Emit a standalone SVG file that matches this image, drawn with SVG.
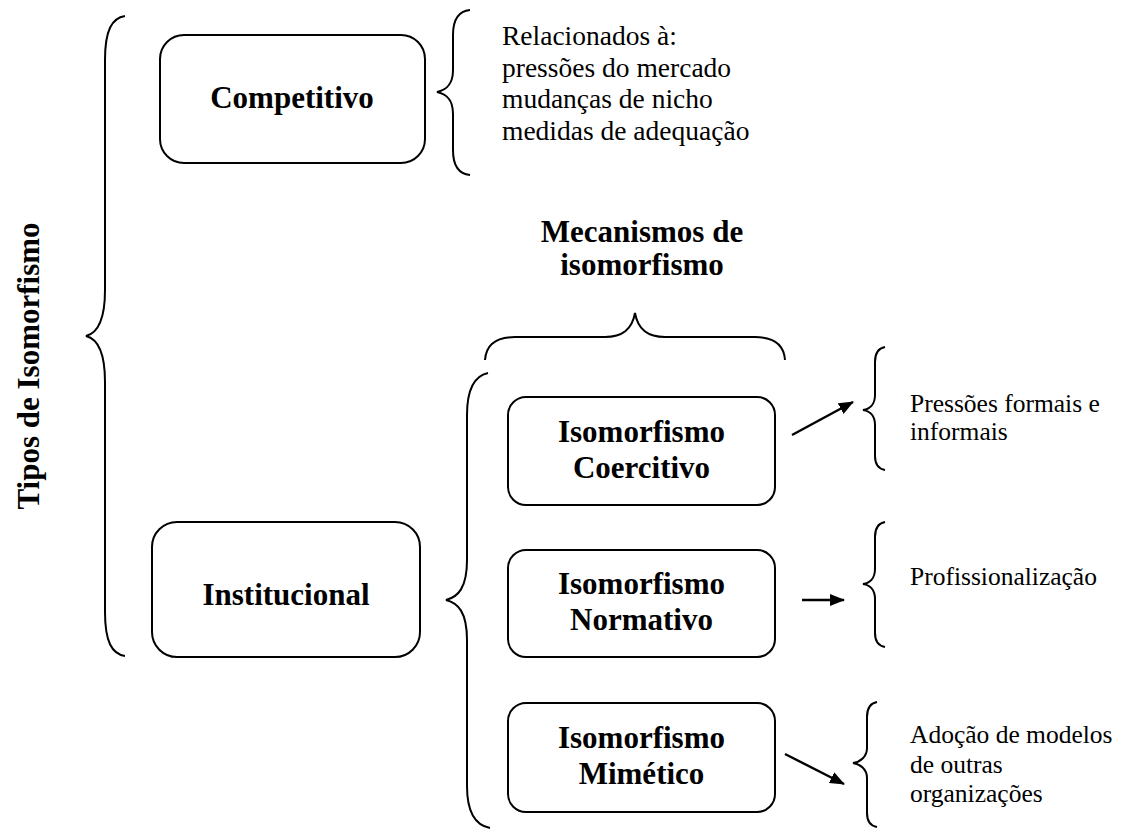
<svg xmlns="http://www.w3.org/2000/svg" width="1122" height="830" viewBox="0 0 1122 830">
<style>
.box{fill:#fff;stroke:#000;stroke-width:2}
.br{fill:none;stroke:#000;stroke-width:2}
.ar{fill:none;stroke:#000;stroke-width:2.4}
.b{font-family:"Liberation Serif","Times New Roman",serif;font-weight:bold;font-size:31px;text-anchor:middle;fill:#000}
.r{font-family:"Liberation Serif","Times New Roman",serif;font-size:25.5px;fill:#000}
.r2{font-family:"Liberation Serif","Times New Roman",serif;font-size:27.5px;fill:#000}
</style>
<defs>
<marker id="ah" viewBox="0 0 15 12" refX="14" refY="6" markerWidth="15" markerHeight="12" markerUnits="userSpaceOnUse" orient="auto">
<path d="M0,0 L15,6 L0,12 Z" fill="#000"/>
</marker>
</defs>
<g id="title">
<text class="b" transform="translate(39,366) rotate(-90)">Tipos de Isomorfismo</text>
</g>
<g id="braces" class="br">
<path d="M125,16 C112,18 105,30 105,60 L105,290 C105,320 98,333 86,336 C98,339 105,352 105,382 L105,612 C105,642 112,654 125,656"/>
<path d="M470,10 C459,11 453,18 453,35 L453,70 C453,85 446,90 437,92 C446,94 453,99 453,114 L453,150 C453,167 459,174 470,175"/>
<path d="M485,360 C486,345 495,337 515,337 L605,337 C622,337 632,330 635,313 C638,330 648,337 665,337 L755,337 C775,337 784,345 785,360"/>
<path d="M488,373 C474,376 467,390 467,415 L467,560 C467,588 458,597 446,600 C458,603 467,612 467,640 L467,786 C467,811 474,825 490,828"/>
<path d="M885,347 C879,348 875,353 875,362 L875,395 C875,404 870,409 863,410 C870,411 875,416 875,425 L875,456 C875,465 879,469 885,470"/>
<path d="M885,522 C879,523 875,528 875,537 L875,569 C875,578 870,583 863,584 C870,585 875,590 875,599 L875,633 C875,642 879,646 885,647"/>
<path d="M877,702 C871,703 867,708 867,717 L867,748 C867,757 860,762 853,763 C860,764 867,769 867,778 L867,813 C867,822 871,826 877,827"/>
</g>
<g id="competitivo">
<rect class="box" x="160" y="35" width="265" height="128" rx="24"/>
<text class="b" x="292" y="108">Competitivo</text>
</g>
<g id="competitivo-desc">
<text class="r2" x="502" y="45">Relacionados à:</text>
<text class="r2" x="502" y="77">pressões do mercado</text>
<text class="r2" x="502" y="108">mudanças de nicho</text>
<text class="r2" x="502" y="140">medidas de adequação</text>
</g>
<g id="mecanismos">
<text class="b" x="642" y="242">Mecanismos de</text>
<text class="b" x="642" y="275">isomorfismo</text>
</g>
<g id="institucional">
<rect class="box" x="152" y="522" width="268" height="135" rx="25"/>
<text class="b" x="286" y="605">Institucional</text>
</g>
<g id="coercitivo">
<rect class="box" x="508" y="397" width="267" height="108" rx="18"/>
<text class="b" x="641.5" y="442">Isomorfismo</text>
<text class="b" x="641.5" y="478">Coercitivo</text>
</g>
<g id="normativo">
<rect class="box" x="508" y="550" width="267" height="107" rx="18"/>
<text class="b" x="641.5" y="594">Isomorfismo</text>
<text class="b" x="641.5" y="630">Normativo</text>
</g>
<g id="mimetico">
<rect class="box" x="508" y="703" width="267" height="109" rx="18"/>
<text class="b" x="641.5" y="748">Isomorfismo</text>
<text class="b" x="641.5" y="784">Mimético</text>
</g>
<g id="coercitivo-desc">
<text class="r" x="910" y="412">Pressões formais e</text>
<text class="r" x="910" y="440">informais</text>
</g>
<g id="normativo-desc">
<text class="r" x="910" y="585">Profissionalização</text>
</g>
<g id="mimetico-desc">
<text class="r" x="910" y="743">Adoção de modelos</text>
<text class="r" x="910" y="773">de outras</text>
<text class="r" x="910" y="802">organizações</text>
</g>
<g id="connectors" class="ar">
<line x1="792" y1="435" x2="853" y2="402" marker-end="url(#ah)"/>
<line x1="802" y1="600" x2="844" y2="600" marker-end="url(#ah)"/>
<line x1="785" y1="754" x2="844" y2="784" marker-end="url(#ah)"/>
</g>
</svg>
